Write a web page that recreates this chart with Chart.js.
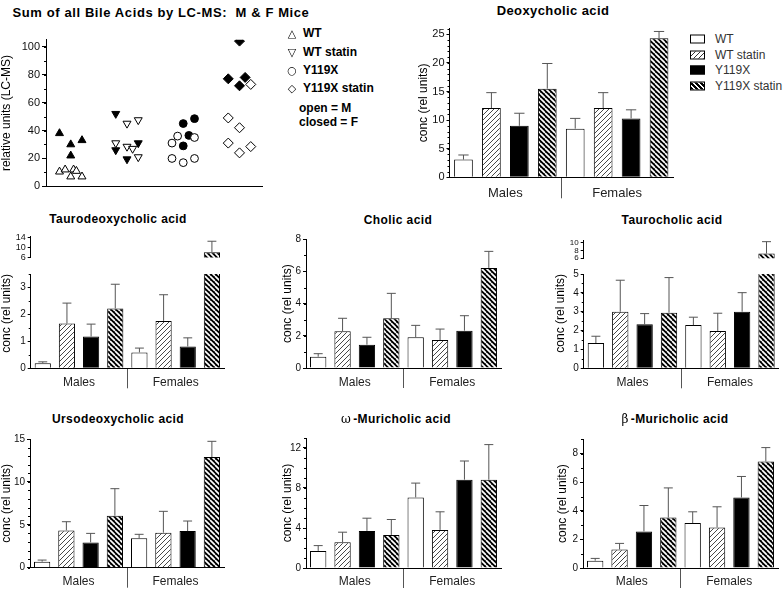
<!DOCTYPE html>
<html>
<head>
<meta charset="utf-8">
<script src="https://cdn.jsdelivr.net/npm/chart.js@4.4.1/dist/chart.umd.min.js"></script>
<style>
  body { margin: 0; width: 783px; height: 590px; position: relative; overflow: hidden; background: #fff;
         font-family: 'Liberation Sans', Arial, sans-serif; color: #000; }
  canvas { position: absolute; }
  .ttl { position: absolute; transform: translate(-50%, -50%); white-space: pre; font-weight: bold; letter-spacing: 0.4px; }
  .ttl .gr { font-family: 'DejaVu Serif', serif; font-weight: normal; margin-right: 2px; filter: grayscale(1); }
  .key { position: absolute; font-size: 12px; font-weight: bold; white-space: pre; transform: translateY(-50%); }
  .sym { position: absolute; font-family: 'DejaVu Sans', sans-serif; font-size: 11px; color: #000; transform: translate(-50%, -50%); filter: grayscale(1); }
  .lg { position: absolute; font-size: 12px; color: #333; white-space: pre; transform: translateY(-50%); }
  .sw { position: absolute; width: 15px; height: 9px; border: 1px solid #000; box-sizing: border-box; transform: translateY(-50%); }
  .sw0 { background: #fff; }
  .sw1 { background: repeating-linear-gradient(135deg, #fff 0 2.6px, #333 2.6px 3.5px); }
  .sw2 { background: #000; }
  .sw3 { background: repeating-linear-gradient(45deg, #000 0 2.1px, #fff 2.1px 3.5px); }
</style>
</head>
<body>
<script>
// --- data ---
const treatments = ["WT", "WT statin", "Y119X", "Y119X statin"];
const sexes = ["Males", "Females"];

// sum of all bile acids (LC-MS), M = open, F = closed. *Col = sideways column of the point
const sumWtM = [10.5, 12, 7, 12, 11, 7];
const sumWtMCol = [-2, -1, 0, 0.5, 1, 2];
const sumWtF = [38, 30, 22, 33];
const sumWtFCol = [-2, 0, 0, 2];
const sumWtsM = [31, 45, 47.5, 28.5, 27, 21];
const sumWtsMCol = [-2, 0, 2, 0, 1, 2];
const sumWtsF = [52, 26, 19.5, 31];
const sumWtsFCol = [-2, -2, 0, 2];
const sumYM = [31, 36, 35, 20, 17, 20];
const sumYMCol = [-2, -1, 2, -2, 0, 2];
const sumYF = [45, 48.5, 36.5, 29];
const sumYFCol = [0, 2, 1, 0];
const sumYsM = [73, 49, 42, 31, 24, 28.5];
const sumYsMCol = [2, -2, 0, -2, 0, 2];
const sumYsF = [104, 77, 78, 72];
const sumYsFCol = [0, -2, 1, 0];
const sumTicks = [0, 20, 40, 60, 80, 100];

// bar panels: [males, females], each in treatment order. err = one-sided error bar
const deoxyMean = [[3.1, 12.1, 9.0, 15.5], [8.5, 12.1, 10.3, 24.3]];
const deoxyErr = [[0.8, 2.7, 2.2, 4.4], [1.8, 2.7, 1.5, 1.2]];
const deoxyTicks = [0, 5, 10, 15, 20, 25];

const tdcaMean = [[0.19, 1.66, 1.18, 2.22], [0.59, 1.76, 0.81, 8.1]];
const tdcaErr = [[0.05, 0.76, 0.46, 0.9], [0.16, 0.97, 0.32, 4.4]];
const tdcaTicks = [0, 1, 2, 3];
const tdcaTopTicks = [6, 10, 14];

const cholicMean = [[0.7, 2.28, 1.45, 3.09], [1.91, 1.74, 2.32, 6.22]];
const cholicErr = [[0.19, 0.81, 0.46, 1.55], [0.74, 0.68, 0.93, 1.03]];
const cholicTicks = [0, 2, 4, 6, 8];

const tcaMean = [[1.34, 3.0, 2.33, 2.95], [2.29, 1.98, 3.0, 7.2]];
const tcaErr = [[0.36, 1.67, 0.57, 1.86], [0.42, 0.94, 1.01, 3.1]];
const tcaTicks = [0, 1, 2, 3, 4, 5];
const tcaTopTicks = [6, 8, 10];

const ursoMean = [[0.7, 4.35, 2.95, 6.06], [3.42, 4.08, 4.27, 12.9]];
const ursoErr = [[0.19, 1.01, 1.05, 3.15], [0.47, 2.49, 1.17, 1.83]];
const ursoTicks = [0, 5, 10, 15];

const omegaMean = [[1.71, 2.58, 3.71, 3.31], [7.06, 3.81, 8.83, 8.83]];
const omegaErr = [[0.53, 1.0, 1.27, 1.54], [1.43, 1.81, 1.87, 3.51]];
const omegaTicks = [0, 4, 8, 12];

const betaMean = [[0.51, 1.3, 2.56, 3.53], [3.14, 2.84, 4.93, 7.44]];
const betaErr = [[0.16, 0.42, 1.81, 2.07], [0.79, 1.44, 1.47, 0.98]];
const betaTicks = [0, 2, 4, 6, 8];

// --- setup ---
Chart.defaults.font.family = "'Liberation Sans', Arial, sans-serif";
Chart.defaults.color = "#111";

function stripes(bg, fg, dir, size, lw) {
  const c = document.createElement("canvas");
  c.width = c.height = size;
  const g = c.getContext("2d");
  g.fillStyle = bg;
  g.fillRect(0, 0, size, size);
  g.strokeStyle = fg;
  g.lineWidth = lw;
  g.beginPath();
  for (let k = -1; k <= 1; k++) {
    if (dir === "/") { g.moveTo(k * size, size); g.lineTo(k * size + size, 0); }
    else { g.moveTo(k * size, 0); g.lineTo(k * size + size, size); }
  }
  g.stroke();
  return g.createPattern(c, "repeat");
}
const fills = ["#fff", stripes("#fff", "#333", "/", 5, 0.9), "#000", stripes("#000", "#fff", "\\", 5, 1.7)];

// error bars (upwards only, like the original)
const errorBars = {
  id: "errorBars",
  afterDatasetsDraw(chart, args, opts) {
    const { ctx, chartArea } = chart;
    ctx.save();
    ctx.beginPath();
    ctx.rect(chartArea.left, chartArea.top - 1, chartArea.right - chartArea.left, chartArea.bottom - chartArea.top + 1);
    ctx.clip();
    ctx.strokeStyle = opts.color;
    ctx.lineWidth = opts.width;
    chart.data.datasets.forEach((ds, i) => {
      const meta = chart.getDatasetMeta(i);
      const yScale = chart.scales[meta.yAxisID];
      meta.data.forEach((bar, j) => {
        const top = yScale.getPixelForValue(ds.data[j] + ds.errors[j]);
        const half = bar.width * opts.cap / 2;
        ctx.beginPath();
        ctx.moveTo(bar.x, bar.y);
        ctx.lineTo(bar.x, top);
        ctx.moveTo(bar.x - half, top);
        ctx.lineTo(bar.x + half, top);
        ctx.stroke();
      });
    });
    ctx.restore();
  }
};

// small unlabelled ticks on the y axis
const minorTicks = {
  id: "minorTicks",
  afterDraw(chart, args, opts) {
    if (!opts.step) return;
    const y = chart.scales.y, ctx = chart.ctx;
    ctx.save();
    ctx.strokeStyle = "#000";
    ctx.lineWidth = 1;
    ctx.beginPath();
    for (let v = y.min; v <= y.max + 1e-9; v += opts.step) {
      const p = Math.round(y.getPixelForValue(v)) + 0.5;
      ctx.moveTo(y.right - 2, p);
      ctx.lineTo(y.right, p);
    }
    ctx.stroke();
    ctx.restore();
  }
};

function addCanvas(box) {
  const cv = document.createElement("canvas");
  cv.width = box[2];
  cv.height = box[3];
  cv.style.left = box[0] + "px";
  cv.style.top = box[1] + "px";
  document.body.appendChild(cv);
  return cv;
}

function addText(cls, html, x, y, size) {
  const d = document.createElement("div");
  d.className = cls;
  d.innerHTML = html;
  d.style.left = x + "px";
  d.style.top = y + "px";
  if (size) d.style.fontSize = size + "px";
  document.body.appendChild(d);
}

function yAxis(o, yW, tickLen) {
  return {
    min: o.min || 0,
    max: o.max,
    afterBuildTicks: s => { s.ticks = o.ticks.map(v => ({ value: v })); },
    grid: { drawOnChartArea: false, drawTicks: true, tickLength: tickLen, color: "#000" },
    border: { display: true, color: "#000", width: 1 },
    ticks: { font: { size: o.tickFont || 10 }, color: "#111", padding: 2, autoSkip: false, callback: v => String(v) },
    title: {
      display: !!o.yTitle, text: o.yTitle || "", font: { size: 12 }, color: "#000",
      align: o.titleAlign || "center",
      padding: { top: (o.yTitleX || 0) - o.box[0] - 7.2, bottom: 0 }
    },
    afterFit: s => { s.width = yW; }
  };
}

// --- bar panels ---
// box = canvas [left, top, width, height], area = plot [left, top, right, bottom] on the page
const panels = [
  { mean: deoxyMean, err: deoxyErr, ticks: deoxyTicks, max: 26, minor: 1, yTitle: "conc (rel units)", yTitleX: 423.3,
    box: [390, 18, 300, 187], area: [449.5, 28.6, 673, 177.3], tickFont: 11, groupFont: 13, divider: 21, gap: 15.7 },
  { mean: tdcaMean, err: tdcaErr, ticks: tdcaTicks, max: 3.5, minor: 0.5, yTitle: "conc (rel units)", yTitleX: 6.5, titleAlign: "end",
    box: [0, 266, 240, 130], area: [30.7, 272, 224, 368.3], groupFont: 12, divider: 20, gap: 14.4 },
  { mean: tdcaMean, err: tdcaErr, ticks: tdcaTopTicks, min: 6, max: 14.5, noX: true, tickFont: 9,
    box: [0, 228, 240, 37], area: [30.7, 236.2, 224, 262.3] },
  { mean: cholicMean, err: cholicErr, ticks: cholicTicks, max: 8, minor: 1, yTitle: "conc (rel units)", yTitleX: 287.7,
    box: [261, 228, 250, 168], area: [306, 239.3, 501, 368], groupFont: 12, divider: 20, gap: 14.4 },
  { mean: tcaMean, err: tcaErr, ticks: tcaTicks, max: 5, minor: 0.5, yTitle: "conc (rel units)", yTitleX: 561, titleAlign: "end",
    box: [522, 266, 261, 130], area: [583.7, 272.3, 778.7, 368.3], groupFont: 12, divider: 20, gap: 14.4 },
  { mean: tcaMean, err: tcaErr, ticks: tcaTopTicks, min: 6, max: 10.5, noX: true, tickFont: 8,
    box: [522, 234, 261, 31], area: [583.7, 240.9, 778.7, 262.3] },
  { mean: ursoMean, err: ursoErr, ticks: ursoTicks, max: 15, minor: 1, yTitle: "conc (rel units)", yTitleX: 6.5,
    box: [0, 430, 240, 160], area: [30, 439, 224, 567.7], groupFont: 12, divider: 20, gap: 14 },
  { mean: omegaMean, err: omegaErr, ticks: omegaTicks, max: 13, minor: 1, yTitle: "conc (rel units)", yTitleX: 287.7,
    box: [261, 430, 250, 160], area: [306, 438, 501, 568], groupFont: 12, divider: 20, gap: 14 },
  { mean: betaMean, err: betaErr, ticks: betaTicks, max: 9, minor: 1, yTitle: "conc (rel units)", yTitleX: 563,
    box: [522, 430, 261, 160], area: [583, 439.3, 778, 568], groupFont: 12, divider: 20, gap: 14 }
];

function barChart(o) {
  const cv = addCanvas(o.box);
  const yW = o.area[0] - o.box[0];
  const xH = o.box[1] + o.box[3] - o.area[3];
  const divColor = c => (c.index === 1 ? "#555" : "rgba(0,0,0,0)");
  return new Chart(cv, {
    type: "bar",
    data: {
      labels: sexes,
      datasets: treatments.map((t, i) => ({
        label: t,
        data: o.mean.map(g => g[i]),
        errors: o.err.map(g => g[i]),
        backgroundColor: fills[i],
        borderColor: "#000",
        borderWidth: 1,
        categoryPercentage: 1,
        barPercentage: 0.67,
        clip: 0
      }))
    },
    options: {
      responsive: false,
      animation: false,
      events: [],
      devicePixelRatio: 1,
      layout: { padding: { left: 0, top: o.area[1] - o.box[1], right: o.box[0] + o.box[2] - o.area[2], bottom: o.noX ? xH : 0 } },
      plugins: {
        legend: { display: false },
        tooltip: { enabled: false },
        errorBars: { color: "#555", width: 1, cap: 0.55 },
        minorTicks: { step: o.minor || 0 }
      },
      scales: {
        x: {
          display: !o.noX,
          offset: true,
          grid: { display: true, drawOnChartArea: false, drawTicks: true, tickLength: o.divider || 0, offset: true,
                  color: divColor, tickColor: divColor, lineWidth: 1 },
          border: { display: true, color: "#000", width: 1 },
          ticks: { font: { size: o.groupFont || 12 }, color: "#222", maxRotation: 0, autoSkip: false,
                   padding: (o.gap || 0) - (o.divider || 0) - (o.groupFont || 12) * 0.6 },
          afterFit: s => { s.height = xH; }
        },
        y: yAxis(o, yW, 3)
      }
    },
    plugins: [errorBars, minorTicks]
  });
}
panels.forEach(barChart);

// --- scatter: sum of all bile acids ---
const markers = [
  { style: "triangle", rot: 0, r: 4.6 },
  { style: "triangle", rot: 180, r: 4.6 },
  { style: "circle", rot: 0, r: 3.9 },
  { style: "rectRot", rot: 0, r: 5 }
];
const sumGroups = [
  [sumWtM, sumWtMCol, sumWtF, sumWtFCol],
  [sumWtsM, sumWtsMCol, sumWtsF, sumWtsFCol],
  [sumYM, sumYMCol, sumYF, sumYFCol],
  [sumYsM, sumYsMCol, sumYsF, sumYsFCol]
];
function sumSet(vals, cols, g, fill) {
  return {
    data: vals.map((v, k) => ({ x: g + cols[k] * 0.1, y: v })),
    pointStyle: markers[g].style,
    pointRotation: markers[g].rot,
    pointRadius: markers[g].r,
    pointBackgroundColor: fill,
    pointBorderColor: "#000",
    pointBorderWidth: 1
  };
}
const sumSets = [];
sumGroups.forEach(([m, mc, f, fc], g) => {
  sumSets.push(sumSet(m, mc, g, "#fff"), sumSet(f, fc, g, "#000"));
});

const sumBox = [0, 28, 272, 167];
const sumArea = [46, 39.7, 262, 188.3];
new Chart(addCanvas(sumBox), {
  type: "scatter",
  data: { datasets: sumSets },
  options: {
    responsive: false,
    animation: false,
    events: [],
    devicePixelRatio: 1,
    layout: { padding: { left: 0, top: sumArea[1] - sumBox[1], right: sumBox[0] + sumBox[2] - sumArea[2], bottom: 0 } },
    plugins: { legend: { display: false }, tooltip: { enabled: false }, minorTicks: { step: 10 } },
    scales: {
      x: {
        type: "linear", min: -0.44, max: 3.4,
        grid: { display: true, drawOnChartArea: false, drawTicks: false },
        border: { display: true, color: "#000", width: 1 },
        ticks: { display: false },
        afterFit: s => { s.height = sumBox[1] + sumBox[3] - sumArea[3]; }
      },
      y: yAxis({ ticks: sumTicks, max: 105, tickFont: 11, yTitle: "relative units (LC-MS)", yTitleX: 7, box: sumBox },
               sumArea[0] - sumBox[0], 4)
    }
  },
  plugins: [minorTicks]
});

// --- titles ---
const titles = [
  ["Sum of all Bile Acids by LC-MS:  M & F Mice", 161, 12, 13],
  ["Deoxycholic acid", 553, 10, 13],
  ["Taurodeoxycholic acid", 118, 218.5, 12],
  ["Cholic acid", 398, 219.5, 12],
  ["Taurocholic acid", 672, 219.5, 12],
  ["Ursodeoxycholic acid", 118, 419, 12],
  ["ω-Muricholic acid", 396, 419, 12],
  ["β-Muricholic acid", 675, 419, 12]
];
titles.forEach(([text, x, y, size]) => {
  const html = /^[ωβ]/.test(text) ? `<span class="gr">${text[0]}</span>${text.slice(1)}` : text.replace("&", "&amp;");
  addText("ttl", html, x, y, size);
});
document.querySelector(".ttl").style.letterSpacing = "0.6px";

// --- scatter key ---
const sumSymbols = ["△", "▽", "○", "◇"];
const sumKeyY = [33, 52, 70, 88];
treatments.forEach((t, i) => {
  addText("sym", sumSymbols[i], 292, sumKeyY[i]);
  addText("key", t, 303, sumKeyY[i]);
});
addText("key", "open = M", 299, 108);
addText("key", "closed = F", 299, 122);

// --- bar legend ---
const legendY = [39, 54.5, 70, 85.5];
treatments.forEach((t, i) => {
  addText("sw sw" + i, "", 690, legendY[i]);
  addText("lg", t, 715, legendY[i]);
});
</script>
</body>
</html>
